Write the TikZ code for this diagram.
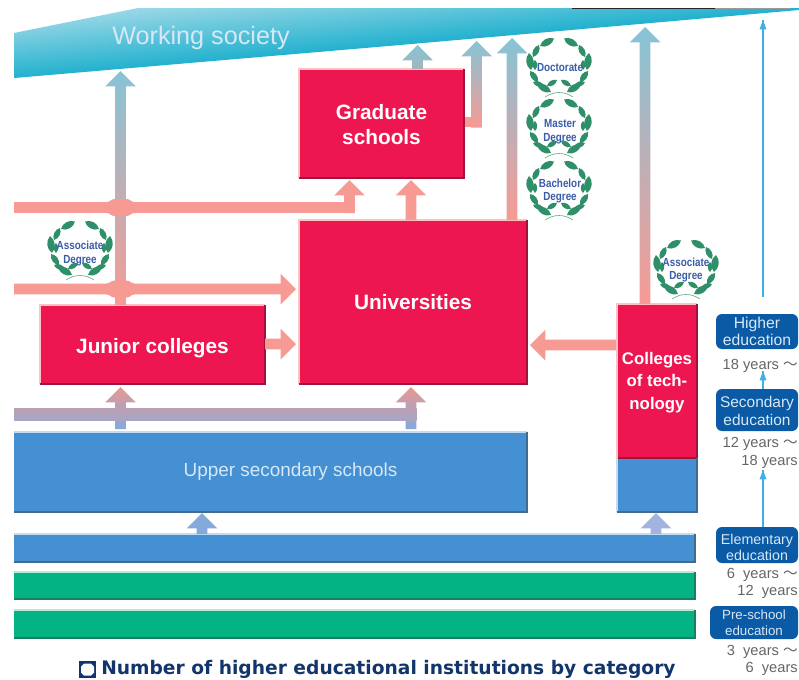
\documentclass[tikz,border=0pt]{standalone}
\usepackage{fontspec}
\setmainfont{Liberation Sans}
\newfontfamily\cjkf{Noto Sans CJK JP}
\newfontfamily\titlef{DejaVu Sans}
\usetikzlibrary{calc}
\definecolor{redbox}{HTML}{EE1650}
\definecolor{redpale}{HTML}{FBC4C0}
\definecolor{reddark}{HTML}{A0143C}
\definecolor{bluebox}{HTML}{4490D2}
\definecolor{bluepale}{HTML}{C4DCEF}
\definecolor{bluedark}{HTML}{3F6C90}
\definecolor{greenbox}{HTML}{04B383}
\definecolor{greenpale}{HTML}{B8EAD8}
\definecolor{greendark}{HTML}{1A7F60}
\definecolor{pinkarrow}{HTML}{F79A94}
\definecolor{tealarrow}{HTML}{86C4D6}
\definecolor{navybox}{HTML}{0A5AA6}
\definecolor{paletext}{HTML}{D6E8F6}
\definecolor{greytext}{HTML}{666666}
\definecolor{thinblue}{HTML}{3FB0E6}
\definecolor{leaf}{HTML}{2F8F68}
\definecolor{degreetext}{HTML}{3A5CA8}
\definecolor{titlenavy}{HTML}{12366B}
\definecolor{bandtop}{HTML}{9AD8E6}
\definecolor{bandbot}{HTML}{1FB0CE}
\definecolor{midbandtop}{HTML}{B89FB4}
\definecolor{midbandbot}{HTML}{A8A6C6}
\definecolor{lowblue}{HTML}{84A9DB}
\definecolor{lowviolet}{HTML}{A3B3E0}
\definecolor{grayteal}{HTML}{A5B5BB}
\tikzset{
  x=0.75pt,y=-0.75pt,
  sized/.style 2 args={minimum width=#1*0.75pt,minimum height=#2*0.75pt,inner sep=0pt,outer sep=0pt,anchor=north west,align=center},
  redlab/.style={text=white,align=center,inner sep=0pt,font=\fontsize{15.6}{18}\selectfont\bfseries},
  blueb/.style={fill=bluebox},
  greenb/.style={fill=greenbox},
  stage/.style={fill=navybox,rounded corners=4.5pt,inner sep=0pt,outer sep=0pt,anchor=north west},
  stagelab/.style={text=paletext,align=center,inner sep=0pt},
  yrs/.style={text=greytext,anchor=east,inner sep=0pt,font=\fontsize{11}{13}\selectfont},
  degree/.style={text=degreetext,align=center,inner sep=0pt,font=\fontsize{8.8}{10.3}\selectfont\bfseries,transform shape,xscale=0.84},
  thinarrow/.style={draw=thinblue,line width=0.8pt},
  pink line/.style={draw=pinkarrow,line width=8.25pt},
}
\newcommand{\vblock}[4]{%
  \shade[top color=#3,bottom color=#4] let \p1=(#1),\p2=(#2) in
   (\x1-4.1pt,\y1)--(\x1+4.1pt,\y1)--(\x1+4.1pt,\y2-11.5pt)--(\x1+11.5pt,\y2-11.5pt)--
   (\x1,\y2)--(\x1-11.5pt,\y2-11.5pt)--(\x1-4.1pt,\y2-11.5pt)--cycle;}
\newcommand{\hblock}[2]{%
  \fill[pinkarrow] let \p1=(#1),\p2=(#2),\n1={\x2>\x1?1:-1} in
   (\x1,\y1+4.1pt)--(\x2-\n1*11.5pt,\y1+4.1pt)--(\x2-\n1*11.5pt,\y1+11.5pt)--(\x2,\y1)--
   (\x2-\n1*11.5pt,\y1-11.5pt)--(\x2-\n1*11.5pt,\y1-4.1pt)--(\x1,\y1-4.1pt)--cycle;}
\newcommand{\bump}[1]{%
  \fill[pinkarrow,shift={(#1)}] (-14,-5.5) .. controls (-10,-5.5) and (-10,-8.5) .. (-6,-8.5) -- (6,-8.5)
    .. controls (10,-8.5) and (10,-5.5) .. (14,-5.5) -- (14,5.5)
    .. controls (10,5.5) and (10,8.5) .. (6,8.5) -- (-6,8.5)
    .. controls (-10,8.5) and (-10,5.5) .. (-14,5.5) -- cycle;}
\newcommand{\lf}[4]{\fill[leaf] (#1,#2) to[bend left=48] (#3,#4) to[bend left=48] (#1,#2);}
\newcommand{\halfwreath}{%
  \lf{-5}{-29.5}{-19}{-22}
  \lf{-20}{-23}{-26}{-11}
  \lf{-30}{-15}{-28}{2}
  \lf{-24}{-8}{-24}{2}
  \lf{-29}{3}{-21}{14}
  \lf{-26}{14}{-15}{18}
  \lf{-22}{16}{-8}{24}
  \lf{-12}{18}{-2}{12}}
\tikzset{wreath/.pic={
  \begin{scope}[xscale=-1]\halfwreath\end{scope}
  \halfwreath
  \draw[leaf!70!white,line width=0.5pt] (-14,29) .. controls (-5,23) and (5,23) .. (14,29);
  }}
\begin{document}
\begin{tikzpicture}
\useasboundingbox (0,0) rectangle (799,679);
\fill[white] (0,0) rectangle (799,679);

% working society band
\begin{scope}
\clip (14,33)--(138,8)--(799,8)--(799,10)--(400,45)--(14,78)--cycle;
\shade[transform canvas={rotate around={5:(400,45)}},top color=bandtop,bottom color=bandbot] (-150,-15) rectangle (950,46);
\end{scope}
\draw[black!85,line width=0.7pt] (572,8.6)--(715,8.6);
\draw[black!40,line width=0.7pt] (715,8.6)--(790,8.6);
\node[text=paletext,inner sep=0pt,font=\fontsize{18.9}{22}\selectfont] (ws) at (201,38) {Working society};
\coordinate (wsl) at (120,71);

% boxes
\node[sized={165}{109},fill=redbox,label={[redlab,yshift=-1pt]center:Graduate\\[0.8pt]schools}] (gr) at (299,69) {};
\node[sized={228}{164},fill=redbox,label={[redlab]center:Universities}] (un) at (299,220) {};
\node[sized={225}{79},fill=redbox,label={[redlab,yshift=-2.5pt]center:Junior colleges}] (jc) at (40,305) {};
\node[sized={80}{154},fill=redbox,label={[redlab,yshift=-1.2pt,font=\fontsize{12.6}{16.9}\selectfont\bfseries]center:Colleges\\of tech-\\nology}] (ct) at (617,304) {};
\node[sized={80}{54},blueb] (ctb) at (617,458) {};
\node[sized={513}{80},blueb,label={[text=paletext,font=\fontsize{14.2}{17}\selectfont,xshift=15pt]center:Upper secondary schools}] (us) at (14,432) {};
\node[sized={681}{28},blueb] (el) at (14,534) {};
\node[sized={681}{27},greenb] (g1) at (14,572) {};
\node[sized={681}{28},greenb] (g2) at (14,610) {};

% box edges
\foreach \n in {gr,un,jc,ct}{
  \draw[redpale,line width=1pt] (\n.south west)--(\n.north west)--(\n.north east);
  \draw[reddark,line width=1pt] (\n.south west)--(\n.south east)--(\n.north east);
}
\draw[bluepale,line width=1pt] (us.north west)--(us.north east);
\draw[bluedark,line width=1pt] (us.south west)--(us.south east)--(us.north east);
\draw[bluepale,line width=1pt] (el.north west)--(el.north east);
\draw[bluedark,line width=1pt] (el.south west)--(el.south east)--(el.north east);
\draw[bluepale,line width=1pt] (ctb.south west)--(ctb.north west);
\draw[bluedark,line width=1pt] (ctb.south west)--(ctb.south east)--(ctb.north east);
\draw[redpale,line width=1pt] (ct.south west)--(ct.north west);
\foreach \n in {g1,g2}{
  \draw[greenpale,line width=1pt] (\n.north west)--(\n.north east);
  \draw[greendark,line width=1pt] (\n.south west)--(\n.south east)--(\n.north east);
}

% upward arrows
\coordinate (jcup) at (120.5,0 |- jc.north);
\vblock{jcup}{wsl}{tealarrow}{pinkarrow}
\coordinate (h1a) at (14,207.5);
\coordinate (h1b) at (355,207.5);
\draw[pink line] (h1a)--(h1b);
\coordinate (h1c) at (349.5,213);
\coordinate (h1t) at (349.5,180);
\vblock{h1c}{h1t}{pinkarrow}{pinkarrow}
\bump{120.5,207.5}
\coordinate (h2a) at (14,289);
\coordinate (h2t) at (296,289);
\hblock{h2a}{h2t}
\bump{120.5,289}
\coordinate (jca) at (265,344);
\coordinate (jcb) at (296,344);
\hblock{jca}{jcb}
\coordinate (unt) at (411,180);
\coordinate (unb) at (411,0 |- un.north);
\vblock{unb}{unt}{pinkarrow}{pinkarrow}
\coordinate (grb) at (417.5,0 |- gr.north);
\coordinate (grt) at (417.5,45);
\vblock{grb}{grt}{tealarrow}{grayteal}
\coordinate (gre) at (464.5,122);
\coordinate (grc) at (482,122);
\coordinate (grl) at (476.5,127.5);
\coordinate (grlt) at (476.5,41);
\draw[draw=pinkarrow,line width=8pt] (gre)--(grc);
\vblock{grl}{grlt}{tealarrow}{pinkarrow}
\coordinate (unr) at (512,0 |- un.north);
\coordinate (unrt) at (512,38);
\vblock{unr}{unrt}{tealarrow}{pinkarrow}
\coordinate (ctu) at (645,0 |- ct.north);
\coordinate (ctut) at (645,27);
\vblock{ctu}{ctut}{tealarrow}{pinkarrow}
\coordinate (ctw) at (616,345);
\coordinate (ctt) at (530,345);
\hblock{ctw}{ctt}

% lower arrows
\coordinate (l1b) at (120.5,429);
\coordinate (l1t) at (120.5,387);
\vblock{l1b}{l1t}{pinkarrow!90!gray}{lowblue}
\coordinate (l2b) at (411,429);
\coordinate (l2t) at (411,387);
\vblock{l2b}{l2t}{pinkarrow!90!gray}{lowblue}
\shade[top color=midbandtop,bottom color=midbandbot] (14,408) rectangle (416.5,420);
\coordinate (l3b) at (202,0 |- el.north);
\coordinate (l3t) at (202,513);
\vblock{l3b}{l3t}{lowblue}{lowblue}
\coordinate (l4b) at (656,0 |- el.north);
\coordinate (l4t) at (656,513);
\vblock{l4b}{l4t}{lowviolet}{lowviolet}

% stages
\node[stage,minimum width=61.5pt,minimum height=26.25pt,label={[stagelab,font=\fontsize{11.8}{13}\selectfont]center:Higher\\education}] (hi) at (716,314) {};
\node[stage,minimum width=61.5pt,minimum height=31.5pt,label={[stagelab,yshift=-0.6pt,font=\fontsize{11.6}{13}\selectfont]center:Secondary\\education}] (se) at (716,389) {};
\node[stage,minimum width=61.5pt,minimum height=27pt,label={[stagelab,yshift=-2pt,font=\fontsize{10.7}{12}\selectfont]center:Elementary\\education}] (ee) at (716,527) {};
\node[stage,minimum width=66pt,minimum height=24.75pt,label={[stagelab,yshift=-0.5pt,font=\fontsize{10}{12}\selectfont]center:Pre-school\\education}] (pr) at (710,606) {};

% year labels
\node[yrs] (y1) at (798,365.5) {18 years {\cjkf ～}};
\node[yrs] (y2) at (798,443.5) {12 years {\cjkf ～}};
\node[yrs] (y3) at (798,461.5) {18 years};
\node[yrs] (y4) at (798,574.5) {6\hspace{3pt} years {\cjkf ～}};
\node[yrs] (y5) at (798,591.5) {12\hspace{3pt} years};
\node[yrs] (y6) at (798,651.5) {3\hspace{3pt} years {\cjkf ～}};
\node[yrs] (y7) at (798,669) {6\hspace{3pt} years};

% thin arrows
\coordinate (ta) at (763,297);
\coordinate (tb) at (763,20);
\coordinate (tc) at (763,0 |- se.north);
\coordinate (td) at (763,371);
\coordinate (te) at (763,0 |- ee.north);
\coordinate (tf) at (763,470);
\foreach \a/\b in {ta/tb,tc/td,te/tf}{
  \draw[thinarrow] (\a)--(\b);
  \fill[thinblue] let \p1=(\b) in (\x1,\y1)--(\x1+2.6pt,\y1-7pt)--(\x1-2.6pt,\y1-7pt)--cycle;
}

% wreaths
\pic at (559,68) {wreath};
\pic at (559,129) {wreath};
\pic at (559,191) {wreath};
\pic at (80,251) {wreath};
\pic at (686,270) {wreath};
\node[degree] (d1) at (560,68) {Doctorate};
\node[degree] (d2) at (560,132) {Master\\Degree};
\node[degree] (d3) at (560,191) {Bachelor\\Degree};
\node[degree] (d4) at (80,253.5) {Associate\\Degree};
\node[degree] (d5) at (686,270) {Associate\\Degree};

% title
\fill[titlenavy] (79,661) rectangle (96,678);
\fill[white] (84,663.5)--(91,663.5)--(94,666.5)--(94,672.5)--(91,675.5)--(84,675.5)--(81,672.5)--(81,666.5)--cycle;
\node[anchor=base west,inner sep=0pt,text=titlenavy,font=\titlef\fontsize{14}{16}\selectfont\bfseries] (ti) at (101,674.6) {Number of higher educational institutions by category};
\end{tikzpicture}
\end{document}
